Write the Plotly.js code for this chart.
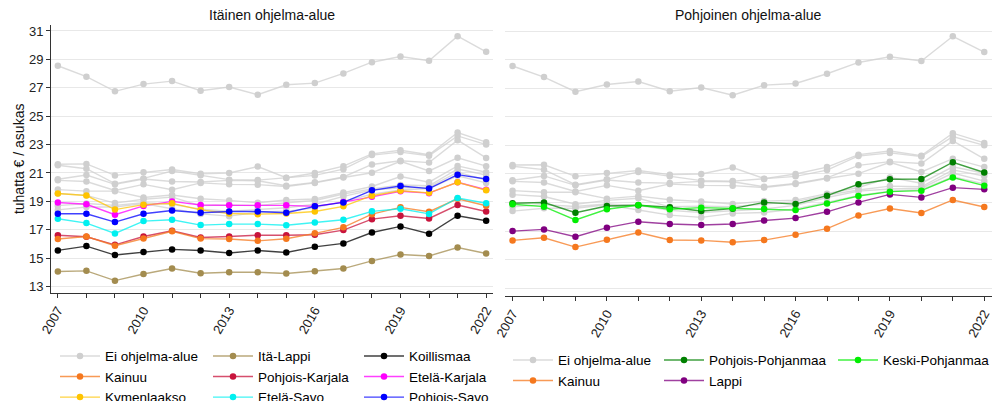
<!DOCTYPE html>
<html><head><meta charset="utf-8">
<script src="https://cdn.plot.ly/plotly-3.0.1.min.js"></script>
<style>html,body{margin:0;padding:0;background:#fff}#chart{width:995px;height:401px}</style>
</head><body><div id="chart"></div>
<script>
const years = [2007,2008,2009,2010,2011,2012,2013,2014,2015,2016,2017,2018,2019,2020,2021,2022];
const yearLabels = years.map(y => ((y - 2007) % 3 === 0 ? String(y) : ''));
const yTicks = [13,15,17,19,21,23,25,27,29,31];

// Ei ohjelma-alue (grey reference regions)
const ei1 = [28.55,27.78,26.75,27.26,27.47,26.79,27.05,26.51,27.21,27.33,28.01,28.8,29.2,28.9,30.63,29.53];
const ei2 = [21.62,21.64,20.83,21.06,21.24,20.95,21.0,21.45,20.67,21.0,21.48,22.35,22.6,22.28,23.85,23.17];
const ei3 = [21.54,21.3,20.25,20.62,21.14,20.84,20.53,20.5,20.64,20.83,21.27,22.26,22.47,22.22,23.61,23.0];
const ei4 = [20.56,20.86,20.2,20.58,20.4,20.36,20.48,20.45,20.1,20.34,20.72,21.6,21.86,21.73,23.31,22.06];
const ei5 = [20.48,20.4,19.77,20.2,19.82,20.3,20.2,20.18,20.05,20.3,20.68,21.02,21.82,21.14,22.07,21.48];
const ei6 = [19.83,19.72,19.72,19.27,19.45,19.19,19.07,18.9,19.1,19.17,19.62,20.05,20.75,20.35,21.5,21.05];
const ei7 = [19.55,19.42,18.88,19.15,19.3,18.7,18.75,18.7,18.9,19.06,19.52,19.88,20.15,20.1,21.28,20.86];
const ei8 = [18.7,18.85,18.72,18.9,18.8,18.45,18.3,18.45,18.55,18.8,19.35,19.8,19.95,20.0,21.06,20.5];
const ei9 = [18.4,18.6,18.6,18.84,18.48,18.12,17.96,18.24,18.3,18.55,19.0,19.5,19.8,19.9,20.8,20.3];
const eiSeries = [ei1,ei2,ei3,ei4,ei5,ei6,ei7,ei8,ei9];

// Itäinen ohjelma-alue
const itaLappi       = [14.06,14.11,13.42,13.89,14.27,13.94,14.01,14.01,13.92,14.08,14.27,14.81,15.26,15.16,15.75,15.33];
const koillismaa     = [15.55,15.85,15.22,15.44,15.62,15.54,15.37,15.54,15.4,15.8,16.04,16.81,17.24,16.72,17.99,17.64];
const kainuu         = [16.35,16.53,15.88,16.39,16.9,16.38,16.35,16.22,16.37,16.75,17.17,18.1,18.58,18.27,19.18,18.69];
const pohjoisKarjala = [16.62,16.51,15.94,16.53,16.93,16.46,16.53,16.62,16.62,16.65,16.98,17.75,17.99,17.8,18.74,18.29];
const etelaSavo      = [17.78,17.47,16.74,17.61,17.71,17.33,17.4,17.4,17.32,17.52,17.71,18.3,18.48,18.12,19.24,18.87];
const pohjoisSavo    = [18.13,18.13,17.54,18.13,18.36,18.2,18.29,18.29,18.2,18.65,18.93,19.78,20.08,19.9,20.88,20.58];
const etelaKarjala   = [18.92,18.8,18.06,18.68,19.0,18.75,18.72,18.72,18.72,18.65,18.95,19.32,19.71,19.58,20.35,19.82];
const kymenlaakso    = [19.56,19.41,18.42,18.77,18.86,18.4,18.15,18.1,18.15,18.29,18.65,19.4,19.75,19.6,20.34,19.78];

// Pohjoinen ohjelma-alue
const pohjoisPohjanmaa = [18.95,19.0,18.29,18.76,18.81,18.67,18.41,18.57,19.01,18.89,19.48,20.28,20.63,20.65,21.82,21.1];
const keskiPohjanmaa   = [18.88,18.71,17.78,18.53,18.83,18.53,18.64,18.6,18.54,18.47,18.94,19.46,19.76,19.83,20.75,20.18];
const lappi            = [17.0,17.12,16.61,17.24,17.66,17.5,17.43,17.5,17.74,17.91,18.35,19.01,19.57,19.36,20.04,19.92];

const FONT = '"Liberation Sans", Arial, sans-serif';
function rgba(hex, a){const n=parseInt(hex.slice(1),16);return `rgba(${n>>16&255},${n>>8&255},${n&255},${a})`;}
function tr(name, vals, color, panel, legend, rank, show){
  return {x: years, y: vals, name: name, type: 'scatter', mode: 'lines+markers',
    xaxis: panel === 1 ? 'x' : 'x2', yaxis: panel === 1 ? 'y' : 'y2',
    line: {color: rgba(color, 0.75), width: 1.4},
    marker: {color: color, size: 6.5},
    legend: legend, legendrank: rank, showlegend: show, hoverinfo: 'x+y+name'};
}
const GREY = '#cfcfcf';
const traces = [];
eiSeries.forEach((s,i) => traces.push(tr('Ei ohjelma-alue', s, GREY, 1, 'legend', 1, i===0)));
traces.push(tr('Itä-Lappi', itaLappi, '#a38c4f', 1, 'legend2', 1, true));
traces.push(tr('Koillismaa', koillismaa, '#000000', 1, 'legend3', 1, true));
traces.push(tr('Pohjois-Karjala', pohjoisKarjala, '#c8143c', 1, 'legend2', 2, true));
traces.push(tr('Kainuu', kainuu, '#f5781e', 1, 'legend', 2, true));
traces.push(tr('Etelä-Karjala', etelaKarjala, '#ff00ff', 1, 'legend3', 2, true));
traces.push(tr('Kymenlaakso', kymenlaakso, '#ffc400', 1, 'legend', 3, true));
traces.push(tr('Etelä-Savo', etelaSavo, '#00f0f0', 1, 'legend2', 3, true));
traces.push(tr('Pohjois-Savo', pohjoisSavo, '#0000ff', 1, 'legend3', 3, true));

eiSeries.forEach((s,i) => traces.push(tr('Ei ohjelma-alue', s, GREY, 2, 'legend4', 1, i===0)));
traces.push(tr('Kainuu', kainuu, '#f5781e', 2, 'legend4', 2, true));
traces.push(tr('Lappi', lappi, '#800080', 2, 'legend5', 2, true));
traces.push(tr('Pohjois-Pohjanmaa', pohjoisPohjanmaa, '#008000', 2, 'legend5', 1, true));
traces.push(tr('Keski-Pohjanmaa', keskiPohjanmaa, '#00ee00', 2, 'legend6', 1, true));

const W = 995, H = 401;
function lg(px, py){
  return {x: px/W, y: 1 - py/H, xanchor: 'left', yanchor: 'top', orientation: 'v',
    bgcolor: 'rgba(0,0,0,0)', borderwidth: 0, itemwidth: 40, tracegroupgap: 0,
    traceorder: 'normal', font: {family: FONT, size: 13.5, color: '#000'}};
}
const xBase = {range: [2006.76, 2022.24], tickmode: 'array', tickvals: years, ticktext: yearLabels,
  tickangle: -60, ticks: 'outside', ticklen: 4, tickcolor: '#333', tickwidth: 1,
  showline: true, linecolor: '#333', linewidth: 1, showgrid: false, zeroline: false,
  tickfont: {family: FONT, size: 13, color: '#222'}, fixedrange: true};
const yBase = {tickmode: 'array', tickvals: yTicks, showgrid: true, gridcolor: '#e8e8e8', gridwidth: 1,
  zeroline: false, tickfont: {family: FONT, size: 13, color: '#222'}, fixedrange: true};

const layout = {
  width: W, height: H, margin: {l: 0, r: 0, t: 0, b: 0, autoexpand: false},
  paper_bgcolor: '#fff', plot_bgcolor: '#fff', font: {family: FONT, color: '#222'},
  showlegend: true,
  xaxis: Object.assign({}, xBase, {domain: [51/W, 493/W], anchor: 'y'}),
  yaxis: Object.assign({}, yBase, {domain: [1-292.7/H, 1-25/H], range: [12.57, 31.42], anchor: 'x',
    ticks: 'outside', ticklen: 4, tickcolor: '#333', showline: true, linecolor: '#333', linewidth: 1,
    title: {text: 'tuhatta € / asukas', font: {family: FONT, size: 14, color: '#111'}, standoff: 1}}),
  xaxis2: Object.assign({}, xBase, {domain: [505/W, 991.8/W], anchor: 'y2'}),
  yaxis2: Object.assign({}, yBase, {domain: [1-296/H, 1-25/H], range: [12.46, 31.42], anchor: 'x2',
    showticklabels: false, ticks: '', showline: false}),
  legend: lg(55, 340.7), legend2: lg(208, 340.7), legend3: lg(359, 340.7),
  legend4: lg(508, 344.7), legend5: lg(659, 344.7), legend6: lg(833, 344.7),
  annotations: [
    {text: 'Itäinen ohjelma-alue', xref: 'paper', yref: 'paper', x: 272/W, y: 1-15/H,
     xanchor: 'center', yanchor: 'middle', showarrow: false, font: {family: FONT, size: 14, color: '#111'}},
    {text: 'Pohjoinen ohjelma-alue', xref: 'paper', yref: 'paper', x: 748.4/W, y: 1-15/H,
     xanchor: 'center', yanchor: 'middle', showarrow: false, font: {family: FONT, size: 14, color: '#111'}}
  ]
};
Plotly.newPlot('chart', traces, layout, {displayModeBar: false, staticPlot: true});
</script>
</body></html>
